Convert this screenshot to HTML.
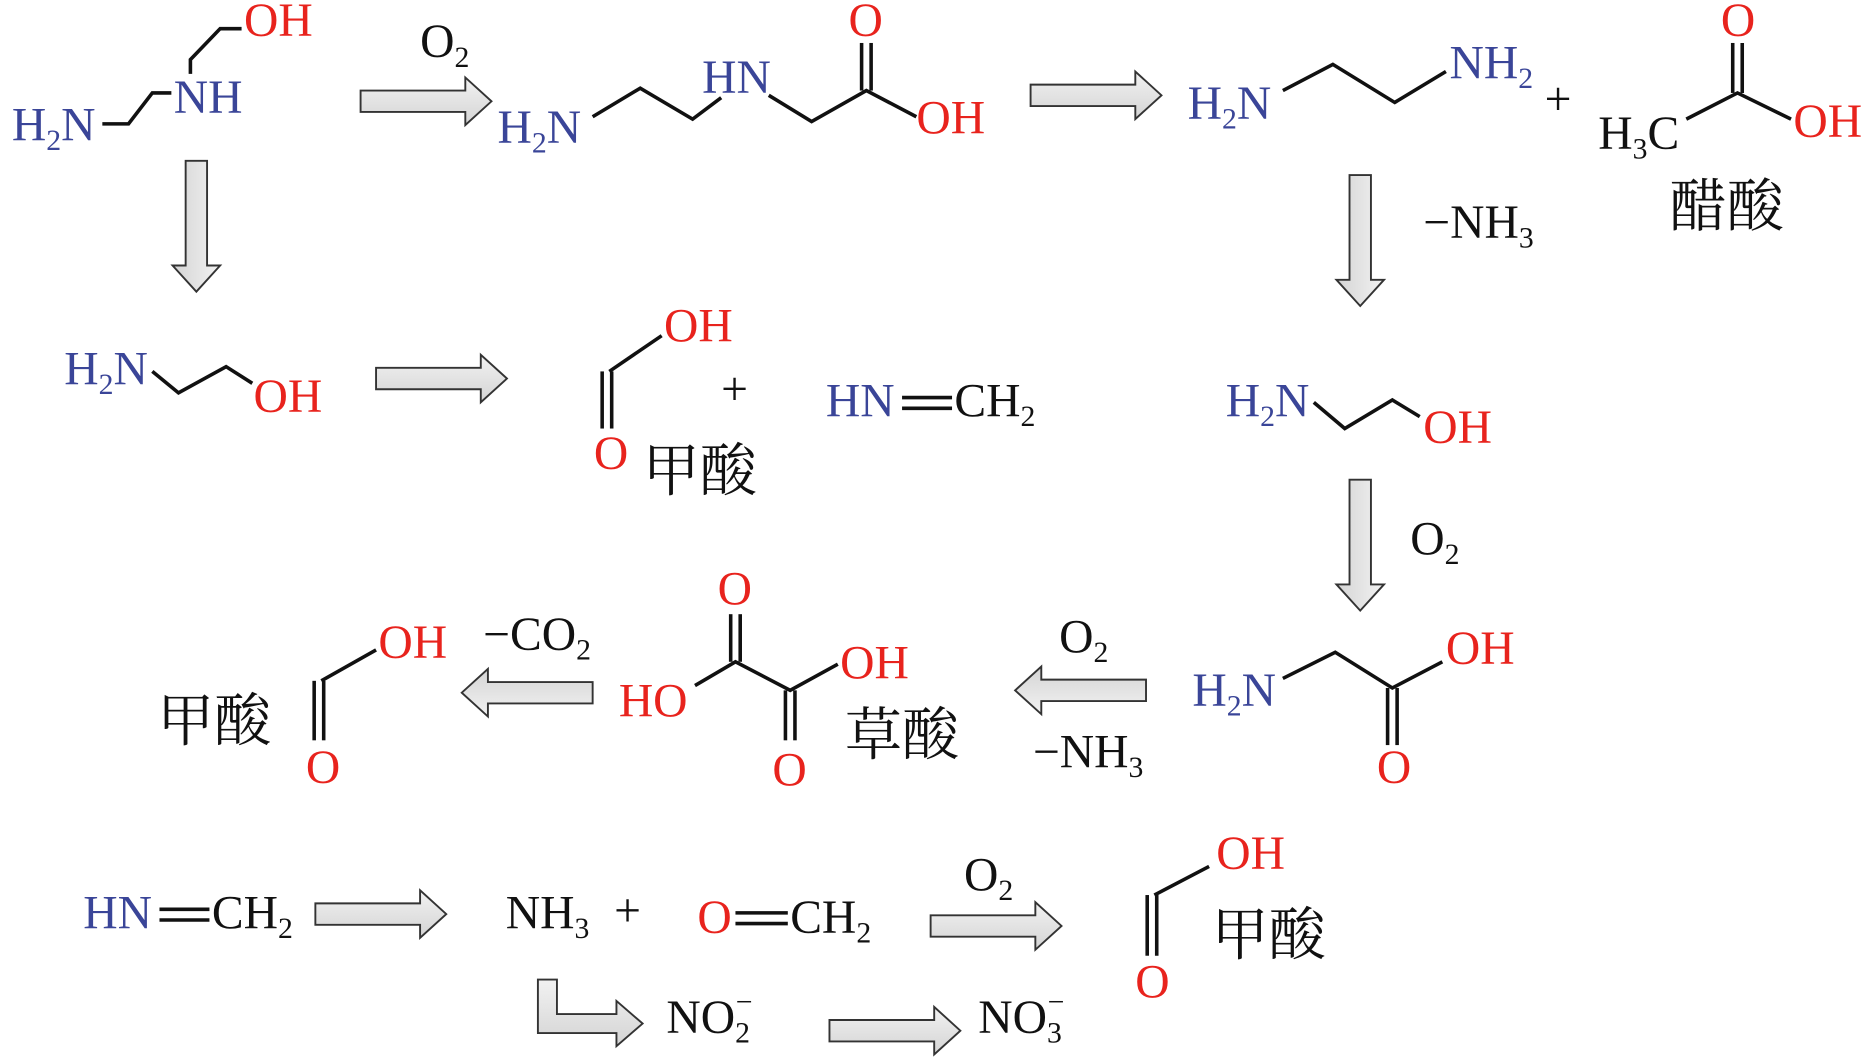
<!DOCTYPE html>
<html><head><meta charset="utf-8"><style>
html,body{margin:0;padding:0;background:#fff;}
svg{display:block;}
text{font-family:"Liberation Serif","Noto Serif CJK SC",serif;font-size:40px;}
.b{fill:#3a4598;} .r{fill:#e8231d;} .k{fill:#111;}
.cn{font-family:"Noto Serif CJK SC","Noto Sans CJK SC",serif;font-size:48px;fill:#111;}
line,polyline{stroke:#111;stroke-width:3;fill:none;}
</style></head><body>
<svg width="1866" height="1057" viewBox="0 0 1568 888" xmlns="http://www.w3.org/2000/svg">
<defs>
<linearGradient id="g" x1="0" y1="0" x2="0" y2="1"><stop offset="0" stop-color="#f2f2f2"/><stop offset="1" stop-color="#d4d4d4"/></linearGradient>
<path id="a" d="M0 -9 H88 V-20 L110 0 L88 20 V9 H0 Z" fill="url(#g)" stroke="#333" stroke-width="1.6"/>
</defs>

<use href="#a" transform="translate(303,85)"/>
<use href="#a" transform="translate(165,135) rotate(90)"/>
<use href="#a" transform="translate(866,80)"/>
<use href="#a" transform="translate(1143,147) rotate(90)"/>
<use href="#a" transform="translate(316,318)"/>
<use href="#a" transform="translate(1143,403) rotate(90)"/>
<use href="#a" transform="translate(963,580) rotate(180)"/>
<use href="#a" transform="translate(498,582) rotate(180)"/>
<use href="#a" transform="translate(265,768)"/>
<use href="#a" transform="translate(782,778)"/>
<use href="#a" transform="translate(697,866)"/>
<path d="M452 823 H468 V852 H518 V841 L540 860 L518 879 V868 H452 Z" fill="url(#g)" stroke="#333" stroke-width="1.6"/>

<text x="10" y="118" class="b">H<tspan dy="8" font-size="25">2</tspan><tspan dy="-8">N</tspan></text>
<polyline points="86,104 108,104 128,78 144,78"/>
<text x="146" y="95" class="b">NH</text>
<polyline points="160,62 160,50 185,24 203,24"/>
<text x="205" y="30" class="r">OH</text>

<text x="353" y="48" class="k">O<tspan dy="8" font-size="25">2</tspan></text>

<text x="418" y="120" class="b">H<tspan dy="8" font-size="25">2</tspan><tspan dy="-8">N</tspan></text>
<polyline points="498,98 538,74 582,100 606,82"/>
<text x="590" y="78" class="b">HN</text>
<polyline points="646,80 682,102 728,76 770,98"/>
<line x1="724" y1="76" x2="724" y2="36"/><line x1="732" y1="76" x2="732" y2="36"/>
<text x="713" y="30" class="r">O</text>
<text x="770" y="112" class="r">OH</text>

<text x="998" y="100" class="b">H<tspan dy="8" font-size="25">2</tspan><tspan dy="-8">N</tspan></text>
<polyline points="1078,76 1120,54 1172,86 1215,60"/>
<text x="1218" y="66" class="b">NH<tspan dy="8" font-size="25">2</tspan></text>
<text x="1298" y="96" class="k">+</text>
<text x="1343" y="125" class="k">H<tspan dy="8" font-size="25">3</tspan><tspan dy="-8">C</tspan></text>
<polyline points="1417,100 1460,78 1505,100"/>
<line x1="1456" y1="78" x2="1456" y2="36"/><line x1="1464" y1="78" x2="1464" y2="36"/>
<text x="1446" y="30" class="r">O</text>
<text x="1507" y="115" class="r">OH</text>
<text x="1403" y="190" class="cn">醋酸</text>
<text x="1196" y="200" class="k">−NH<tspan dy="8" font-size="25">3</tspan></text>

<text x="54" y="323" class="b">H<tspan dy="8" font-size="25">2</tspan><tspan dy="-8">N</tspan></text>
<polyline points="128,312 150,330 190,308 212,322"/>
<text x="213" y="346" class="r">OH</text>

<polyline points="512,312 556,282"/>
<line x1="506" y1="312" x2="506" y2="360"/><line x1="514" y1="312" x2="514" y2="360"/>
<text x="558" y="287" class="r">OH</text>
<text x="499" y="394" class="r">O</text>
<text x="540" y="412" class="cn">甲酸</text>
<text x="606" y="340" class="k">+</text>
<text x="694" y="350" class="b">HN</text>
<line x1="758" y1="334" x2="800" y2="334"/><line x1="758" y1="343" x2="800" y2="343"/>
<text x="802" y="350" class="k">CH<tspan dy="8" font-size="25">2</tspan></text>

<text x="1030" y="350" class="b">H<tspan dy="8" font-size="25">2</tspan><tspan dy="-8">N</tspan></text>
<polyline points="1104,338 1130,360 1170,336 1193,350"/>
<text x="1196" y="372" class="r">OH</text>
<text x="1185" y="466" class="k">O<tspan dy="8" font-size="25">2</tspan></text>

<text x="1002" y="593" class="b">H<tspan dy="8" font-size="25">2</tspan><tspan dy="-8">N</tspan></text>
<polyline points="1078,570 1122,548 1170,578 1212,556"/>
<line x1="1166" y1="578" x2="1166" y2="626"/><line x1="1174" y1="578" x2="1174" y2="626"/>
<text x="1157" y="658" class="r">O</text>
<text x="1215" y="558" class="r">OH</text>
<text x="890" y="548" class="k">O<tspan dy="8" font-size="25">2</tspan></text>
<text x="868" y="645" class="k">−NH<tspan dy="8" font-size="25">3</tspan></text>

<text x="603" y="508" class="r">O</text>
<text x="520" y="602" class="r">HO</text>
<polyline points="584,576 618,556 664,580 704,558"/>
<line x1="614" y1="556" x2="614" y2="516"/><line x1="622" y1="556" x2="622" y2="516"/>
<line x1="660" y1="580" x2="660" y2="622"/><line x1="668" y1="580" x2="668" y2="622"/>
<text x="649" y="660" class="r">O</text>
<text x="706" y="570" class="r">OH</text>
<text x="710" y="634" class="cn">草酸</text>
<text x="406" y="546" class="k">−CO<tspan dy="8" font-size="25">2</tspan></text>

<text x="132" y="622" class="cn">甲酸</text>
<polyline points="270,572 316,546"/>
<line x1="264" y1="572" x2="264" y2="622"/><line x1="272" y1="572" x2="272" y2="622"/>
<text x="318" y="553" class="r">OH</text>
<text x="257" y="658" class="r">O</text>

<text x="70" y="780" class="b">HN</text>
<line x1="134" y1="764" x2="176" y2="764"/><line x1="134" y1="773" x2="176" y2="773"/>
<text x="178" y="780" class="k">CH<tspan dy="8" font-size="25">2</tspan></text>
<text x="425" y="780" class="k">NH<tspan dy="8" font-size="25">3</tspan></text>
<text x="516" y="778" class="k">+</text>
<text x="586" y="784" class="r">O</text>
<line x1="618" y1="767" x2="662" y2="767"/><line x1="618" y1="776" x2="662" y2="776"/>
<text x="664" y="784" class="k">CH<tspan dy="8" font-size="25">2</tspan></text>
<text x="810" y="748" class="k">O<tspan dy="8" font-size="25">2</tspan></text>

<polyline points="970,752 1016,728"/>
<line x1="964" y1="752" x2="964" y2="803"/><line x1="972" y1="752" x2="972" y2="803"/>
<text x="1022" y="730" class="r">OH</text>
<text x="954" y="838" class="r">O</text>
<text x="1018" y="802" class="cn">甲酸</text>

<text x="560" y="868" class="k">NO<tspan dy="8" font-size="25">2</tspan><tspan dx="-12" dy="-26" font-size="25">−</tspan></text>
<text x="822" y="868" class="k">NO<tspan dy="8" font-size="25">3</tspan><tspan dx="-12" dy="-26" font-size="25">−</tspan></text>
</svg>
</body></html>
